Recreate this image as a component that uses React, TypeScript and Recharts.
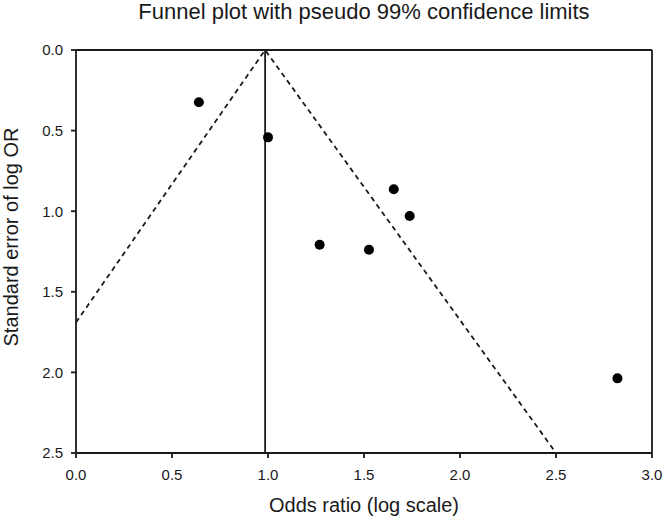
import React from 'react';
import { ScatterChart, Scatter, XAxis, YAxis, ReferenceLine } from 'recharts';

const oddsRatios = [0.64, 1.0, 1.655, 1.738, 1.269, 1.526, 2.82];
const standardErrors = [0.324, 0.542, 0.864, 1.03, 1.208, 1.239, 2.037];
const pooledEstimate = 0.985;
const limitX = [0, pooledEstimate, 2.5];
const limitY = [1.69, 0, 2.5];
const xTicks = [0, 0.5, 1.0, 1.5, 2.0, 2.5, 3.0];
const yTicks = [0, 0.5, 1.0, 1.5, 2.0, 2.5];

const studies = oddsRatios.map((x, i) => ({ x, y: standardErrors[i] }));
const limits = limitX.map((x, i) => ({ x, y: limitY[i] }));

const FONT = '"Liberation Sans", Arial, sans-serif';
const INK = '#1a1a1a';

const fmt = (v: number) => v.toFixed(1);

export default function App() {
  return (
    <div style={{ position: 'absolute', left: 0, top: 0, width: 663, height: 522, background: '#fff', fontFamily: FONT }}>
      <ScatterChart
        width={663}
        height={522}
        margin={{ top: 50, right: 11, bottom: 29, left: 16 }}
      >
        <XAxis
          type="number"
          dataKey="x"
          domain={[0, 3]}
          ticks={xTicks}
          tickFormatter={fmt}
          height={40}
          allowDataOverflow
          stroke={INK}
          strokeWidth={1.8}
          tickSize={5}
          tickMargin={11}
          tick={{ fill: INK, fontSize: 15, fontFamily: FONT }}
        />
        <YAxis
          type="number"
          dataKey="y"
          domain={[0, 2.5]}
          ticks={yTicks}
          tickFormatter={fmt}
          reversed
          width={60}
          allowDataOverflow
          stroke={INK}
          strokeWidth={1.8}
          tickSize={5}
          tickMargin={8}
          tick={{ fill: INK, fontSize: 15, fontFamily: FONT }}
        />
        <ReferenceLine y={0} stroke={INK} strokeWidth={1.8} />
        <ReferenceLine x={3} stroke={INK} strokeWidth={1.8} />
        <ReferenceLine x={pooledEstimate} stroke={INK} strokeWidth={1.8} />
        <Scatter
          data={limits}
          line={{ stroke: INK, strokeWidth: 1.8, strokeDasharray: '5 4' }}
          shape={() => <g />}
          isAnimationActive={false}
        />
        <Scatter
          data={studies}
          fill="#000"
          shape={(p: any) => <circle cx={p.cx} cy={p.cy} r={5} fill="#000" />}
          isAnimationActive={false}
        />
      </ScatterChart>
      <svg width={663} height={522} style={{ position: 'absolute', left: 0, top: 0, pointerEvents: 'none' }}>
        <text x={364} y={11} textAnchor="middle" dominantBaseline="central" fontSize={22} fontFamily={FONT} fill={INK}>
          Funnel plot with pseudo 99% confidence limits
        </text>
        <text x={364} y={505} textAnchor="middle" dominantBaseline="central" fontSize={20} fontFamily={FONT} fill={INK}>
          Odds ratio (log scale)
        </text>
        <text x={11} y={237} textAnchor="middle" dominantBaseline="central" fontSize={20} fontFamily={FONT} fill={INK} transform="rotate(-90 11 237)">
          Standard error of log OR
        </text>
      </svg>
    </div>
  );
}
